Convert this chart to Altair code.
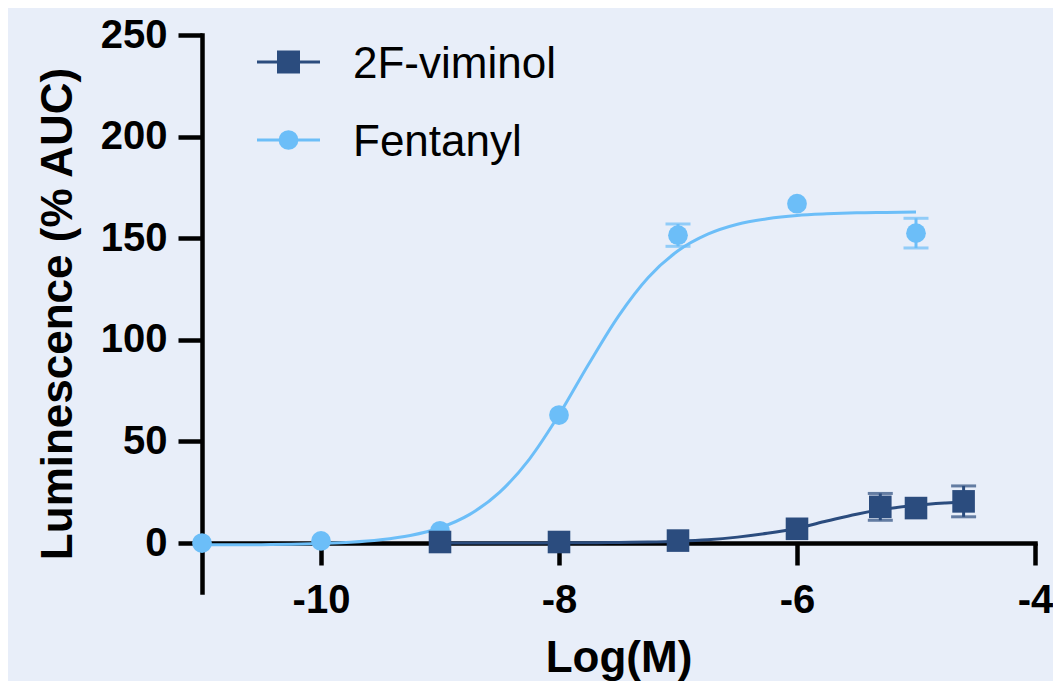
import altair as alt
import pandas as pd

# ---------------- data ----------------
series_names = ["2F-viminol", "Fentanyl"]
series_colors = ["#2B4C7E", "#6CBEF8"]

# measured points: log concentration, mean, SEM
fen_logm = [-11, -10, -9, -8, -7, -6, -5]
fen_mean = [0.0, 1.0, 6.0, 63.0, 151.5, 167.0, 152.5]
fen_sem = [0.0, 0.0, 0.0, 0.0, 5.5, 0.0, 7.3]

vim_logm = [-9, -8, -7, -6, -5.3, -5, -4.6]
vim_mean = [0.5, 0.5, 1.2, 7.0, 17.8, 17.2, 20.5]
vim_sem = [0.0, 0.0, 0.0, 0.0, 6.6, 0.0, 7.6]

# fitted curves
fen_curve_x = [-11, -10.75, -10.5, -10.25, -10, -9.75, -9.5, -9.25, -9, -8.75,
               -8.5, -8.25, -8, -7.75, -7.5, -7.25, -7, -6.75, -6.5, -6.25,
               -6, -5.75, -5.5, -5.25, -5]
fen_curve_y = [-0.9, -0.9, -0.8, -0.6, -0.2, 0.4, 1.6, 3.7, 7.5, 14.1,
               24.9, 41.2, 63.1, 88.1, 111.7, 130.7, 143.8, 152.0, 156.9, 159.6,
               161.2, 162.0, 162.5, 162.7, 162.9]

vim_curve_x = [-9, -8.75, -8.5, -8.25, -8, -7.75, -7.5, -7.25, -7, -6.75,
               -6.5, -6.25, -6, -5.75, -5.5, -5.25, -5, -4.75, -4.6]
vim_curve_y = [0.0, 0.0, 0.0, 0.0, 0.1, 0.1, 0.3, 0.5, 0.9, 1.6,
               2.9, 4.8, 7.3, 10.8, 14.2, 16.8, 18.6, 19.7, 20.2]

x_ticks = [-10, -8, -6, -4]
y_ticks = [0, 50, 100, 150, 200, 250]

# ---------------- tables ----------------
pts = pd.concat([
    pd.DataFrame({"series": series_names[1], "logm": fen_logm, "mean": fen_mean, "sem": fen_sem}),
    pd.DataFrame({"series": series_names[0], "logm": vim_logm, "mean": vim_mean, "sem": vim_sem}),
], ignore_index=True)
pts["lo"] = pts["mean"] - pts["sem"]
pts["hi"] = pts["mean"] + pts["sem"]

curves = pd.concat([
    pd.DataFrame({"series": series_names[1], "logm": fen_curve_x, "value": fen_curve_y}),
    pd.DataFrame({"series": series_names[0], "logm": vim_curve_x, "value": vim_curve_y}),
], ignore_index=True)

legend_df = pd.DataFrame({"series": series_names})
legend_df["ly"] = [27 + 78 * i for i in range(len(series_names))]

# ---------------- style ----------------
FONT = "Liberation Sans"
BG = "#E8EEF9"
W, H = 833, 557

color = alt.Color("series:N", scale=alt.Scale(domain=series_names, range=series_colors), legend=None)
xs = alt.Scale(domain=[-11, -4], nice=False, zero=False)
ys = alt.Scale(domain=[-24.1, 250], nice=False, zero=False)

x_axis = alt.Axis(values=x_ticks, labelExpr="'' + datum.value", grid=False,
                  domainColor="black", domainWidth=4.5, domainCap="square",
                  tickColor="black", tickWidth=4.5, tickSize=22,
                  labelFont=FONT, labelFontSize=40, labelFontWeight="bold", labelColor="black",
                  labelPadding=15, labelFlush=False,
                  title="Log(M)", titleFont=FONT, titleFontSize=44, titleFontWeight="bold",
                  titleColor="black", titleBaseline="alphabetic", titleY=128, offset=-49)
y_axis = alt.Axis(values=y_ticks, grid=False,
                  domainColor="black", domainWidth=4.5, domainCap="square",
                  tickColor="black", tickWidth=4.5, tickSize=24,
                  labelFont=FONT, labelFontSize=40, labelFontWeight="bold", labelColor="black",
                  labelPadding=11, labelFlush=False,
                  title="Luminescence (% AUC)", titleFont=FONT, titleFontSize=44,
                  titleFontWeight="bold", titleColor="black", titleBaseline="alphabetic",
                  titleX=-131, titleY=H / 2, titleAngle=270)

base = alt.Chart(curves)

lines = base.mark_line(strokeWidth=3, interpolate="monotone").encode(
    x=alt.X("logm:Q", scale=xs, axis=x_axis),
    y=alt.Y("value:Q", scale=ys, axis=y_axis),
    color=color,
    detail="series:N",
)

err_src = alt.Chart(pts).transform_filter("datum.sem > 0")
err_rule = err_src.mark_rule(strokeWidth=3).encode(
    x=alt.X("logm:Q", scale=xs), y=alt.Y("lo:Q", scale=ys), y2="hi:Q", color=color)
cap_hi = err_src.mark_tick(orient="horizontal", size=25, thickness=3).encode(
    x=alt.X("logm:Q", scale=xs), y=alt.Y("hi:Q", scale=ys), color=color)
cap_lo = err_src.mark_tick(orient="horizontal", size=25, thickness=3).encode(
    x=alt.X("logm:Q", scale=xs), y=alt.Y("lo:Q", scale=ys), color=color)

fen_pts = alt.Chart(pts).transform_filter(
    alt.datum.series == series_names[1]
).mark_point(shape="circle", filled=True, size=390, opacity=1).encode(
    x=alt.X("logm:Q", scale=xs), y=alt.Y("mean:Q", scale=ys), color=color)
vim_pts = alt.Chart(pts).transform_filter(
    alt.datum.series == series_names[0]
).mark_point(shape="square", filled=True, size=510, opacity=1).encode(
    x=alt.X("logm:Q", scale=xs), y=alt.Y("mean:Q", scale=ys), color=color)

leg = alt.Chart(legend_df)
leg_line = leg.mark_rule(strokeWidth=3).encode(
    x=alt.value(55), x2=alt.value(118),
    y=alt.Y("ly:Q", scale=None, axis=None), color=color)
leg_sym = leg.mark_point(filled=True, opacity=1).encode(
    x=alt.value(86.5),
    y=alt.Y("ly:Q", scale=None, axis=None),
    color=color,
    shape=alt.Shape("series:N", scale=alt.Scale(domain=series_names, range=["square", "circle"]), legend=None),
    size=alt.Size("series:N", scale=alt.Scale(domain=series_names, range=[529, 390]), legend=None),
)
leg_txt = leg.mark_text(align="left", baseline="alphabetic", dy=16, font=FONT,
                        fontSize=44, color="black").encode(
    x=alt.value(151), y=alt.Y("ly:Q", scale=None, axis=None), text="series:N")

chart = alt.layer(
    lines, err_rule, cap_hi, cap_lo, fen_pts, vim_pts, leg_line, leg_sym, leg_txt
).properties(
    width=W, height=H,
    padding={"left": 194, "top": 27, "right": 18, "bottom": 89},
    autosize=alt.AutoSizeParams(type="none"),
    background=BG,
).configure_view(stroke=None)

chart.save("out.html", embed_options={"renderer": "svg", "actions": False})
